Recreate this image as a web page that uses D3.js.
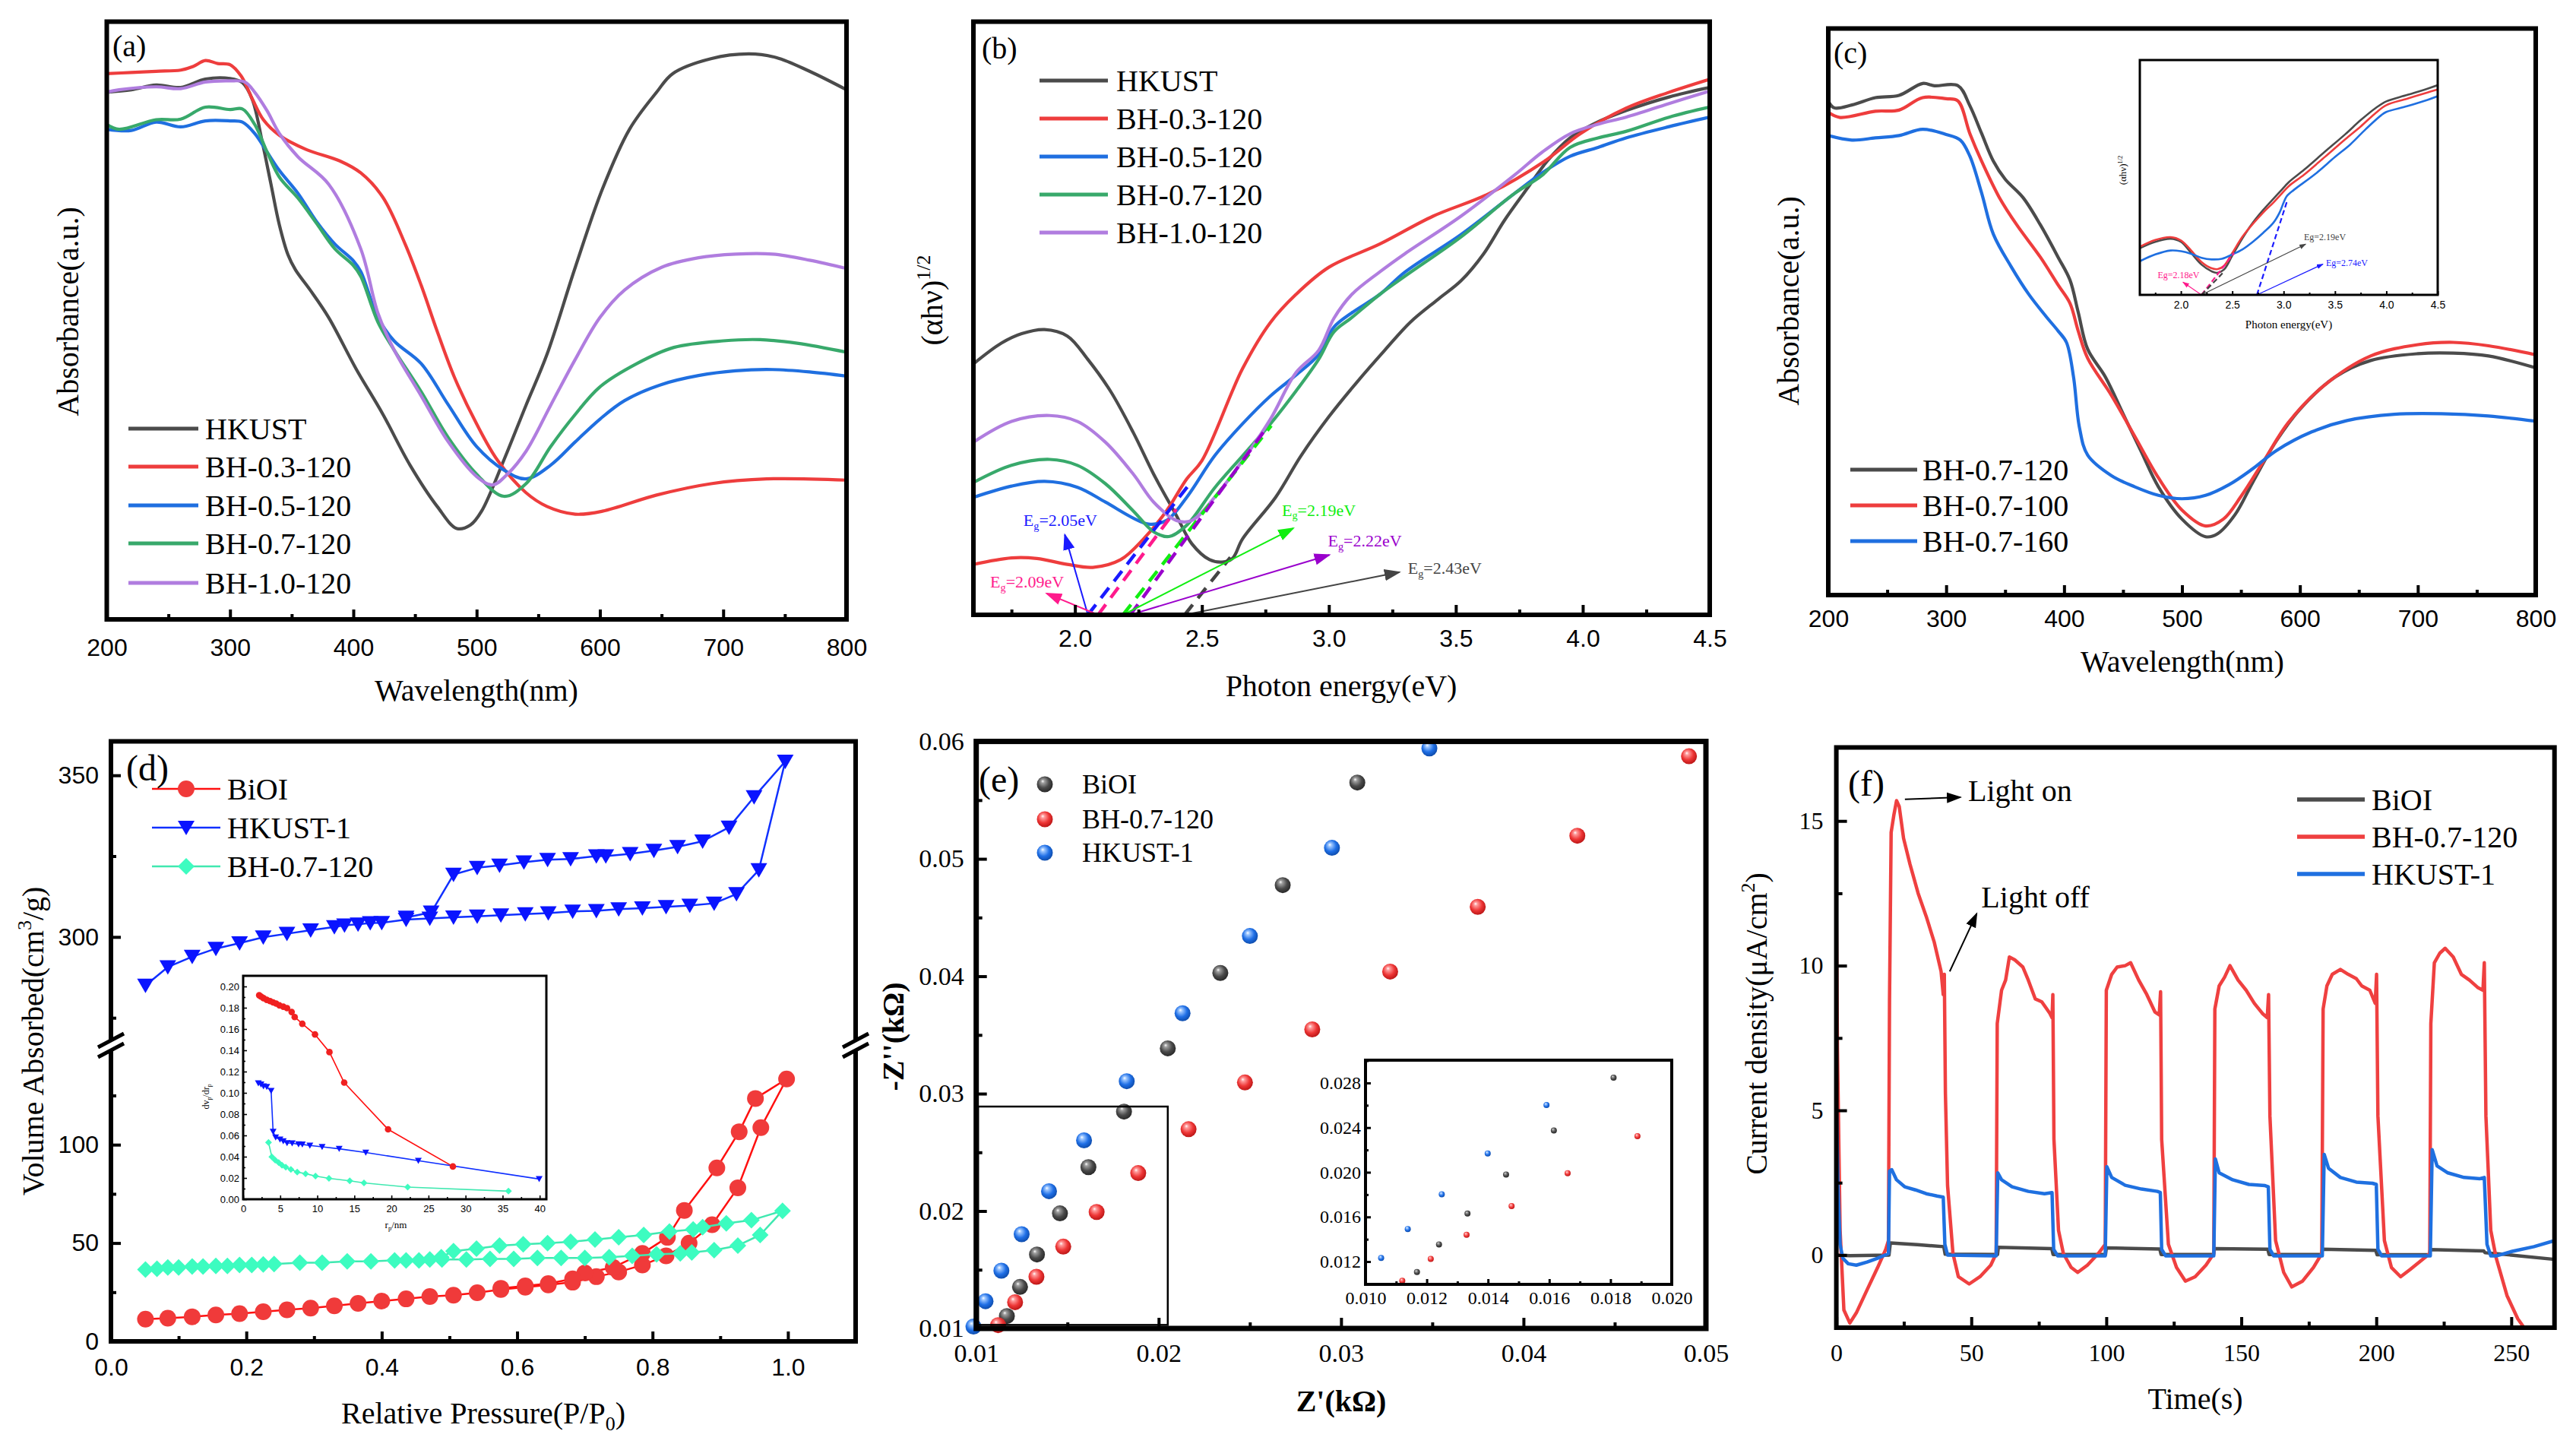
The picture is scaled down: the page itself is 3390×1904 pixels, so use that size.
<!DOCTYPE html>
<html><head><meta charset="utf-8">
<script src="https://cdn.jsdelivr.net/npm/d3@7"></script>
<style>body{margin:0;background:#fff}</style>
</head><body>
<script>
// ---------------- DATA ----------------
// (a) UV-vis absorbance, x = wavelength (nm), y = relative absorbance (a.u.)
const aHKUST=[[200,.882],[220,.886],[240,.894],[260,.890],[280,.904],[300,.905],[310,.898],[318,.87],[326,.80],[333,.73],[340,.66],[347,.61],[353,.585],[365,.551],[380,.505],[402,.420],[424,.343],[446,.258],[468,.189],[484,.152],[495,.158],[504,.181],[522,.266],[540,.358],[557,.443],[580,.589],[602,.720],[624,.820],[646,.882],[659,.913],[690,.938],[721,.946],[743,.940],[770,.917],[800,.886]];
const aBH03=[[200,.913],[220,.915],[240,.917],[260,.919],[270,.925],[280,.935],[290,.930],[300,.928],[309,.909],[318,.871],[327,.836],[340,.810],[362,.786],[389,.767],[406,.747],[424,.706],[442,.628],[455,.559],[468,.482],[482,.405],[500,.327],[517,.266],[540,.212],[557,.189],[580,.176],[602,.181],[646,.208],[690,.227],[735,.235],[800,.233]];
const aBH05=[[200,.820],[220,.818],[240,.832],[260,.824],[280,.834],[300,.834],[310,.832],[320,.813],[330,.782],[340,.751],[355,.713],[370,.666],[385,.628],[400,.600],[406,.582],[420,.505],[433,.466],[455,.428],[477,.359],[500,.289],[522,.250],[540,.235],[560,.258],[580,.297],[600,.335],[620,.366],[650,.393],[680,.408],[710,.416],[740,.418],[770,.414],[800,.407]];
const aBH07=[[200,.828],[210,.820],[240,.836],[260,.837],[280,.857],[300,.853],[310,.854],[320,.828],[330,.782],[340,.740],[355,.705],[370,.663],[385,.620],[400,.592],[406,.574],[420,.497],[433,.451],[455,.381],[477,.304],[500,.243],[522,.206],[540,.227],[560,.289],[580,.343],[600,.389],[630,.428],[660,.455],[700,.466],[730,.468],[760,.462],[800,.447]];
const aBH10=[[200,.882],[210,.886],[240,.891],[260,.888],[280,.899],[300,.901],[312,.899],[320,.882],[330,.851],[340,.813],[355,.774],[380,.728],[406,.620],[420,.512],[433,.451],[455,.374],[477,.297],[500,.239],[513,.225],[525,.243],[540,.281],[560,.358],[580,.435],[600,.505],[620,.551],[650,.589],[680,.605],[710,.611],[740,.611],[770,.601],[800,.587]];
const aNames=["HKUST","BH-0.3-120","BH-0.5-120","BH-0.7-120","BH-1.0-120"];

// (b) Tauc plot, x = photon energy (eV), y = (ahv)^1/2 (a.u.)
const bHKUST=[[1.6,.423],[1.71,.458],[1.79,.474],[1.88,.481],[1.97,.47],[2.05,.431],[2.14,.377],[2.23,.307],[2.31,.237],[2.40,.167],[2.46,.12],[2.53,.093],[2.58,.089],[2.62,.095],[2.66,.128],[2.79,.198],[2.89,.268],[3.0,.334],[3.11,.392],[3.22,.446],[3.32,.493],[3.43,.532],[3.52,.563],[3.61,.609],[3.69,.664],[3.78,.718],[3.86,.765],[3.95,.804],[4.04,.827],[4.17,.85],[4.34,.873],[4.5,.889]];
const bBH03=[[1.6,.085],[1.75,.096],[1.85,.095],[1.97,.085],[2.07,.08],[2.18,.093],[2.27,.128],[2.36,.175],[2.44,.229],[2.5,.26],[2.66,.415],[2.77,.493],[2.87,.54],[3.0,.586],[3.2,.625],[3.41,.672],[3.63,.71],[3.85,.765],[3.99,.811],[4.17,.854],[4.34,.881],[4.5,.903]];
const bBH05=[[1.6,.198],[1.75,.217],[1.88,.225],[2.01,.215],[2.12,.19],[2.23,.163],[2.29,.153],[2.36,.159],[2.44,.198],[2.55,.268],[2.66,.322],[2.77,.369],[2.87,.404],[2.96,.439],[3.02,.485],[3.09,.509],[3.2,.54],[3.3,.578],[3.52,.641],[3.73,.71],[3.84,.745],[3.95,.773],[4.06,.788],[4.17,.804],[4.34,.823],[4.5,.839]];
const bBH07=[[1.6,.223],[1.75,.252],[1.9,.262],[2.01,.252],[2.12,.221],[2.23,.175],[2.31,.14],[2.37,.132],[2.44,.151],[2.55,.214],[2.66,.268],[2.77,.322],[2.87,.377],[2.96,.431],[3.02,.477],[3.09,.501],[3.2,.54],[3.3,.571],[3.52,.637],[3.73,.71],[3.84,.741],[3.95,.788],[4.06,.804],[4.17,.815],[4.34,.839],[4.5,.856]];
const bBH10=[[1.6,.291],[1.75,.326],[1.9,.336],[2.01,.326],[2.12,.291],[2.23,.237],[2.31,.19],[2.4,.159],[2.46,.159],[2.55,.198],[2.66,.26],[2.77,.33],[2.87,.408],[2.96,.446],[3.02,.5],[3.09,.54],[3.2,.578],[3.3,.609],[3.52,.672],[3.73,.741],[3.84,.78],[3.95,.811],[4.06,.827],[4.17,.839],[4.34,.862],[4.5,.883]];
// tangent lines [x0,y0,x1,y1]: BH-0.5, BH-0.3, BH-0.7, BH-1.0, HKUST
const bTangents=[[2.051,0,2.452,.221],[2.091,0,2.399,.178],[2.189,0,2.773,.319],[2.218,0,2.746,.31],[2.432,0,2.612,.097]];
const bArrows=[[2.051,0,1.960,.135],[2.091,0,1.888,.036],[2.189,0,2.860,.146],[2.218,0,3.002,.101],[2.432,0,3.278,.072]];
const bLabelPos=[[1.797,.150],[1.666,.046],[2.815,.167],[2.996,.115],[3.311,.069]];
const bEg=["2.05","2.09","2.19","2.22","2.43"];

// (c) absorbance
const cBH120=[[200,.872],[205,.860],[220,.865],[240,.878],[260,.882],[280,.903],[290,.899],[310,.899],[320,.864],[330,.815],[340,.766],[350,.734],[365,.702],[380,.653],[395,.596],[405,.556],[412,.499],[420,.434],[435,.385],[450,.320],[465,.255],[480,.191],[500,.134],[520,.103],[530,.108],[545,.142],[560,.199],[580,.272],[600,.328],[630,.385],[660,.414],[700,.426],[730,.427],[760,.422],[800,.401]];
const cBH100=[[200,.852],[210,.843],[240,.854],[260,.856],[280,.878],[300,.876],[310,.872],[320,.815],[330,.766],[345,.702],[360,.653],[380,.596],[395,.547],[405,.515],[412,.466],[420,.418],[440,.353],[460,.280],[480,.207],[500,.150],[520,.122],[535,.134],[550,.174],[570,.239],[590,.304],[620,.369],[660,.422],[700,.442],[730,.446],[760,.440],[800,.424]];
const cBH160=[[200,.811],[220,.803],[240,.807],[260,.811],[280,.822],[300,.813],[312,.803],[320,.775],[330,.710],[340,.637],[355,.580],[370,.531],[385,.491],[395,.466],[402,.446],[408,.385],[413,.296],[420,.247],[440,.211],[460,.191],[480,.176],[500,.170],[520,.176],[540,.195],[560,.223],[580,.255],[610,.288],[640,.308],[680,.319],[720,.320],[760,.316],[800,.307]];
const cNames=["BH-0.7-120","BH-0.7-100","BH-0.7-160"];
// (c) inset Tauc
const ciBH120=[[1.6,.199],[1.75,.226],[1.9,.239],[2.0,.226],[2.1,.178],[2.2,.129],[2.3,.100],[2.35,.094],[2.42,.108],[2.5,.167],[2.6,.242],[2.7,.307],[2.8,.361],[2.9,.409],[2.97,.442],[3.05,.480],[3.2,.533],[3.4,.609],[3.6,.684],[3.75,.744],[3.9,.797],[4.0,.824],[4.2,.851],[4.4,.878],[4.5,.893]];
const ciBH100=[[1.6,.205],[1.75,.234],[1.9,.246],[2.0,.232],[2.1,.189],[2.2,.140],[2.3,.113],[2.36,.110],[2.42,.124],[2.5,.178],[2.6,.248],[2.7,.302],[2.8,.350],[2.9,.393],[2.97,.426],[3.05,.463],[3.2,.512],[3.4,.587],[3.6,.663],[3.75,.717],[3.9,.776],[4.0,.808],[4.2,.835],[4.4,.862],[4.5,.875]];
const ciBH160=[[1.6,.143],[1.75,.172],[1.9,.189],[2.0,.186],[2.1,.175],[2.2,.158],[2.3,.151],[2.4,.154],[2.5,.172],[2.6,.194],[2.7,.226],[2.8,.264],[2.9,.307],[2.96,.350],[3.0,.393],[3.03,.420],[3.1,.447],[3.3,.512],[3.5,.587],[3.65,.641],[3.8,.706],[3.95,.765],[4.0,.779],[4.2,.803],[4.4,.830],[4.5,.846]];
const ciTangents=[[2.2,0,2.518,.178],[2.2,0,2.405,.092],[2.74,0,3.037,.404]];
const ciArrows=[[2.2,0,2.02,.054],[2.2,0,3.215,.216],[2.74,0,3.383,.131]];
const ciLabelPos=[[1.773,.070],[3.198,.232],[3.412,.122]];
const ciEg=["2.18","2.19","2.74"];

// (d) N2 isotherms, x = P/P0, y = volume (cm3/g)
const dBiOIads=[[0.051,11.3],[0.084,11.8],[0.12,12.5],[0.155,13.4],[0.19,14.1],[0.225,15.1],[0.26,16],[0.295,16.9],[0.33,18.1],[0.365,19.3],[0.40,20.5],[0.436,21.6],[0.471,22.8],[0.506,23.5],[0.541,24.7],[0.576,26.4],[0.612,27.5],[0.646,28.7],[0.682,30.1],[0.717,32.9],[0.75,35.3],[0.785,38.8],[0.82,43.5],[0.854,49.9],[0.888,59.3],[0.926,78.1],[0.960,108.7],[0.998,133.4]];
const dBiOIdes=[[0.998,133.4],[0.952,123.5],[0.928,106.6],[0.895,88.2],[0.847,66.6],[0.822,52.9],[0.785,44.7],[0.742,37.6],[0.70,34.8],[0.682,31.8],[0.646,29.4],[0.612,28.2],[0.576,27.0]];
const dHKads=[[0.051,285],[0.084,290.7],[0.12,293.9],[0.155,296.4],[0.19,298.1],[0.225,299.9],[0.26,301],[0.295,302.1],[0.33,303.1],[0.345,303.6],[0.365,303.9],[0.383,304.3],[0.40,304.4],[0.436,305.4],[0.471,305.7],[0.506,306.1],[0.541,306.4],[0.576,306.7],[0.612,307.1],[0.646,307.4],[0.682,307.9],[0.717,308.1],[0.75,308.6],[0.785,308.9],[0.82,309.3],[0.855,309.7],[0.891,310.4],[0.924,313.3],[0.957,320.7],[0.996,354.3]];
const dHKdes=[[0.996,354.3],[0.95,343.3],[0.913,333.9],[0.874,329.6],[0.837,327.9],[0.802,326.7],[0.767,325.7],[0.731,325],[0.717,325],[0.679,324.1],[0.645,323.9],[0.61,323.1],[0.574,322.1],[0.541,321.4],[0.506,319.3],[0.473,307.6],[0.436,306]];
const dBHads=[[0.051,36.5],[0.068,36.9],[0.084,37.6],[0.10,37.6],[0.12,38.1],[0.136,38.1],[0.155,38.4],[0.172,38.4],[0.19,38.8],[0.208,38.8],[0.225,39.1],[0.241,39.3],[0.279,40],[0.312,40],[0.349,40.7],[0.384,40.7],[0.419,41.2],[0.436,41.2],[0.455,41.2],[0.471,41.6],[0.489,41.6],[0.525,41.6],[0.56,41.9],[0.595,41.9],[0.63,42.4],[0.665,42.4],[0.70,42.4],[0.736,42.8],[0.77,43.5],[0.806,44.2],[0.841,44.7],[0.858,45.2],[0.891,46.4],[0.926,48.7],[0.959,54.1],[0.992,66.4]];
const dBHdes=[[0.992,66.4],[0.946,61.6],[0.909,60],[0.874,58.1],[0.86,56.9],[0.825,55.8],[0.787,54.1],[0.75,52.9],[0.715,51.8],[0.679,50.6],[0.645,49.9],[0.609,49.4],[0.574,48.7],[0.54,47.1],[0.506,45.9],[0.488,42.8]];
const dNames=["BiOI","HKUST-1","BH-0.7-120"];
const dTicksLo=[0,50,100], dTicksHi=[300,350];
// (d) inset pore size distribution, x = rp (nm), y = dVp/drp
const diBiOI=[[2.16,.1917],[2.40,.1905],[2.74,.189],[3.18,.1874],[3.63,.1862],[4.04,.185],[4.45,.1839],[4.90,.1822],[5.41,.181],[5.92,.1796],[6.54,.176],[6.95,.1713],[7.98,.1649],[9.69,.1549],[11.64,.1383],[13.63,.1096],[19.55,.0657],[28.29,.0308]];
const diHK=[[2.05,.1091],[2.40,.108],[2.74,.1063],[3.18,.1056],[3.77,.102],[4.04,.0636],[4.38,.0581],[4.97,.0562],[5.41,.0546],[5.92,.0529],[6.61,.0527],[7.47,.0517],[7.98,.0515],[9.0,.0505],[10.65,.0493],[12.95,.0474],[16.54,.0439],[23.63,.0363],[39.93,.019]];
const diBH=[[3.42,.0534],[3.87,.0399],[4.32,.0368],[4.79,.0344],[5.24,.032],[5.75,.0301],[6.44,.028],[7.29,.0256],[8.42,.024],[9.76,.0218],[11.58,.0197],[14.38,.0173],[16.3,.0154],[22.19,.0114],[35.79,.0076]];

// (e) Nyquist, x = Z' (kOhm), y = -Z'' (kOhm)
const eBiOI=[[0.01168,0.01106],[0.0124,0.01354],[0.01333,0.0163],[0.01459,0.0198],[0.01615,0.02374],[0.0181,0.02847],[0.0205,0.03386],[0.02338,0.04028],[0.0268,0.04776],[0.03089,0.0565]];
const eBH=[[0.0112,0.01028],[0.01213,0.01224],[0.0133,0.0144],[0.01477,0.01697],[0.0166,0.01992],[0.01888,0.02323],[0.02164,0.02697],[0.02473,0.03095],[0.02842,0.03547],[0.03269,0.0404],[0.03749,0.04591],[0.04295,0.05197],[0.04907,0.05874]];
const eHK=[[0.00985,0.01016],[0.01051,0.01232],[0.01138,0.01492],[0.01249,0.01803],[0.01399,0.02169],[0.01591,0.02602],[0.01825,0.03106],[0.02131,0.03685],[0.025,0.04343],[0.0295,0.05094],[0.03484,0.05941]];
const eNames=["BiOI","BH-0.7-120","HKUST-1"];
const eZoomBox=[0.0101,0.0103,0.0205,0.0289];

// (f) photocurrent, x = time (s), y = current density (uA/cm2)
const fBiOI=[[0,0.0],[5,-0.02],[19.5,0.0],[20,0.42],[30,0.36],[39.8,0.29],[40.3,0.03],[59.7,0.02],[60,0.27],[79.8,0.22],[80.3,0.02],[99.7,0.02],[100,0.25],[119.8,0.21],[120.3,0.02],[139.7,0.02],[140,0.22],[159.8,0.2],[160.3,0.02],[179.7,0.02],[180,0.2],[199.8,0.16],[200.3,0.01],[219.7,0.01],[220,0.19],[239.8,0.14],[240.3,0.08],[250,0.0],[266,-0.15]];
const fBH=[[0,12.2],[0.4,7.2],[1.4,0.85],[2.8,-1.9],[5,-2.35],[7.4,-2.0],[11.4,-1.2],[15.3,-0.43],[18.3,0.2],[19.3,0.5],[19.7,8.8],[20.3,14.6],[21.3,15.2],[22.3,15.7],[23.3,15.5],[24.9,14.4],[27.3,13.5],[30.3,12.5],[33.3,11.7],[36.3,10.8],[38.8,9.8],[39.6,9.0],[40.0,9.7],[40.4,5.6],[41.2,2.4],[43.2,0.05],[45.2,-0.75],[49.2,-1.0],[53.2,-0.75],[57.2,-0.35],[59.2,0.05],[59.6,8.0],[61.2,9.15],[62.7,9.5],[64.1,10.3],[66.1,10.2],[69.1,9.95],[71.1,9.5],[73.7,8.85],[76.1,8.75],[79.1,8.35],[79.9,8.2],[80.2,9.0],[80.6,4.0],[82.3,0.85],[84.1,0.05],[87,-0.43],[89.4,-0.6],[93,-0.35],[97,0.05],[99.6,0.37],[100,9.15],[102,9.7],[104,9.95],[107,10.0],[109,10.1],[112,9.5],[115,9.0],[118,8.4],[119.6,8.3],[120.1,9.1],[120.5,4.0],[123,0.37],[126,-0.43],[129.3,-0.9],[132.9,-0.75],[136.9,-0.35],[139.8,0.05],[140.2,8.5],[141.8,9.3],[143.8,9.6],[145.8,10.0],[148.8,9.5],[151.8,9.15],[154.8,8.7],[157.8,8.35],[159.6,8.2],[160.1,9.0],[160.6,4.8],[162.7,0.5],[165.7,-0.6],[168.7,-1.1],[172.7,-0.9],[176.7,-0.43],[179.8,0.05],[180.3,8.5],[181.7,9.3],[183.7,9.7],[186.7,9.87],[189.6,9.7],[192.6,9.55],[194.6,9.3],[197.6,9.15],[199.6,8.7],[200.1,9.7],[200.6,4.8],[203,0.5],[205.6,-0.43],[209,-0.75],[212.5,-0.5],[216.5,-0.2],[219.8,0.05],[220.2,8.0],[221.5,10.1],[223.5,10.43],[225.5,10.6],[228.5,10.3],[231.5,9.7],[234.5,9.5],[237.5,9.25],[239.5,9.15],[240,10.1],[240.6,4.8],[242.4,0.85],[244.4,-0.1],[248.4,-1.4],[252.4,-2.2],[255.4,-2.6],[258,-3.2]];
const fHK=[[0,5.5],[0.6,2.44],[1.4,0.37],[2.4,-0.11],[4.4,-0.3],[7.4,-0.35],[11.4,-0.24],[15.3,-0.11],[19.3,0.05],[19.7,2.9],[20.5,2.95],[22.3,2.6],[25.3,2.36],[29.3,2.25],[33.3,2.12],[37.3,2.04],[39.6,2.0],[40.2,0.37],[41.2,0],[59.2,-0.03],[59.8,2.84],[61.2,2.6],[65.1,2.36],[71.1,2.2],[77.1,2.12],[79.9,2.16],[80.5,0.2],[82,-0.03],[99.6,-0.03],[100.2,3.05],[102,2.68],[107,2.41],[113,2.28],[118.9,2.2],[120,2.16],[120.5,0.2],[122,-0.03],[139.8,-0.03],[140.4,3.32],[141.8,2.84],[146.8,2.6],[152.8,2.44],[158.8,2.4],[160,2.36],[160.6,0.2],[162,-0.03],[180,-0.03],[180.7,3.48],[182.3,3.0],[186.7,2.68],[192.6,2.52],[198.6,2.48],[200,2.44],[200.6,0.2],[202,-0.03],[220,-0.03],[220.7,3.64],[222.5,3.08],[226.5,2.84],[232.5,2.68],[238.4,2.64],[240,2.68],[241,0.37],[242.4,-0.03],[244.4,-0.03],[250.4,0.13],[258.4,0.29],[266,0.5]];
const fNames=["BiOI","BH-0.7-120","HKUST-1"];
const fLightOn=[25.4,15.75,46,15.82], fLightOff=[42,9.8,52,11.8];

// ---------------- DRAWING ----------------
const SERIF='"Liberation Serif","Times New Roman",Times,serif';
const SANS='"Liberation Sans",Arial,Helvetica,sans-serif';
const svg=d3.select('body').append('svg').attr('width',3390).attr('height',1904);
svg.append('rect').attr('width',3390).attr('height',1904).attr('fill','#fff');
const defs=svg.append('defs');
const C={gray:'#4b4b4b',red:'#ee3d3d',blue:'#1f6fe0',green:'#38a96b',purple:'#b07ddf'};

function clip(id,L,T,R,B){defs.append('clipPath').attr('id',id).append('rect').attr('x',L).attr('y',T).attr('width',R-L).attr('height',B-T);return `url(#${id})`;}
function frame(g,L,T,R,B,sw){g.append('rect').attr('x',L).attr('y',T).attr('width',R-L).attr('height',B-T).attr('fill','none').attr('stroke','#000').attr('stroke-width',sw);}
function styleAxis(a,font,size,sw){a.select('.domain').remove();a.selectAll('line').attr('stroke','#000').attr('stroke-width',sw);a.selectAll('text').attr('font-family',font).attr('font-size',size).attr('fill','#000');}
function axB(g,x,y,maj,min,fmt,o){
  const a=g.append('g').attr('transform',`translate(0,${y})`).call(d3.axisBottom(x).tickValues(maj).tickSizeInner(-o.ml).tickSizeOuter(0).tickPadding(o.pad).tickFormat(fmt||(()=>'')));
  styleAxis(a,o.font,o.size,o.sw);
  if(min&&min.length){const b=g.append('g').attr('transform',`translate(0,${y})`).call(d3.axisBottom(x).tickValues(min).tickSizeInner(-o.mn).tickSizeOuter(0).tickFormat(()=>''));styleAxis(b,o.font,o.size,o.sw);}
}
function axL(g,y,x,maj,min,fmt,o){
  const a=g.append('g').attr('transform',`translate(${x},0)`).call(d3.axisLeft(y).tickValues(maj).tickSizeInner(-o.ml).tickSizeOuter(0).tickPadding(o.pad).tickFormat(fmt||(()=>'')));
  styleAxis(a,o.font,o.size,o.sw);
  if(min&&min.length){const b=g.append('g').attr('transform',`translate(${x},0)`).call(d3.axisLeft(y).tickValues(min).tickSizeInner(-o.mn).tickSizeOuter(0).tickFormat(()=>''));styleAxis(b,o.font,o.size,o.sw);}
}
function line(g,data,x,y,color,w,curve){
  return g.append('path').datum(data).attr('d',d3.line().x(d=>x(d[0])).y(d=>y(d[1])).curve(curve||d3.curveCatmullRom.alpha(0.5)))
   .attr('fill','none').attr('stroke',color).attr('stroke-width',w).attr('stroke-linejoin','round').attr('stroke-linecap','round');
}
function rich(g,x,y,parts,size,font,opt){
  opt=opt||{};
  const t=g.append('text').attr('font-family',font).attr('font-size',size).attr('fill',opt.fill||'#000')
   .attr('text-anchor',opt.anchor||'start').attr('font-weight',opt.bold?'bold':'normal');
  if(opt.rotate){t.attr('transform',`translate(${x},${y}) rotate(-90)`);} else {t.attr('x',x).attr('y',y);}
  let cur=0;
  parts.forEach(p=>{const s=typeof p==='string'?p:p[0];const m=typeof p==='string'?0:p[1];
    const target=m===1?-0.4*size:(m===-1?0.22*size:0);
    const ts=t.append('tspan').text(s).attr('dy',target-cur); if(m) ts.attr('font-size',size*0.65); cur=target;});
  return t;
}
let mk=0;
function arrowHead(color,size){const id='ah'+(mk++);
  defs.append('marker').attr('id',id).attr('viewBox','0 0 10 10').attr('refX',9).attr('refY',5).attr('markerWidth',size).attr('markerHeight',size)
   .attr('markerUnits','userSpaceOnUse').attr('orient','auto').append('path').attr('d','M0,1.5 L10,5 L0,8.5 z').attr('fill',color);
  return `url(#${id})`;}
function legendLines(g,names,colors,x0,x1,tx,ys,size,w){
  names.forEach((n,i)=>{g.append('line').attr('x1',x0).attr('x2',x1).attr('y1',ys[i]).attr('y2',ys[i]).attr('stroke',colors[i]).attr('stroke-width',w);
    g.append('text').attr('x',tx).attr('y',ys[i]).attr('dy','0.34em').attr('font-family',SERIF).attr('font-size',size).text(n);});
}
function label(g,x,y,s,size,font,anchor){return g.append('text').attr('x',x).attr('y',y).attr('font-family',font||SERIF).attr('font-size',size).attr('text-anchor',anchor||'start').text(s);}

// ===== Panel (a) =====
{
  const g=svg.append('g');
  const L=140.5,R=1114,T=28.5,B=815;
  const x=d3.scaleLinear().domain([200,800]).range([L,R]);
  const y=d3.scaleLinear().domain([0,1]).range([B,T]);
  const cg=g.append('g').attr('clip-path',clip('ca',L,T,R,B));
  const cols=[C.gray,C.red,C.blue,C.green,C.purple];
  [aHKUST,aBH03,aBH05,aBH07,aBH10].forEach((d,i)=>line(cg,d,x,y,cols[i],4.2));
  frame(g,L,T,R,B,6);
  axB(g,x,B,d3.range(200,801,100),d3.range(250,800,100),d3.format('d'),{font:SANS,size:32,pad:25,ml:13,mn:7,sw:4});
  legendLines(g,aNames,cols,169,261,270,[564,614,665,715,767],40,5);
  label(g,148,74,'(a)',40);
  label(g,627,922,'Wavelength(nm)',40,SERIF,'middle');
  rich(g,103,410,['Absorbance(a.u.)'],40,SERIF,{anchor:'middle',rotate:true});
}

// ===== Panel (b) =====
{
  const g=svg.append('g');
  const L=1281,R=2250,T=28.5,B=809;
  const x=d3.scaleLinear().domain([1.6,4.5]).range([L,R]);
  const y=d3.scaleLinear().domain([0,1]).range([B,T]);
  const cg=g.append('g').attr('clip-path',clip('cb',L,T,R,B+6));
  const cols=[C.gray,C.red,C.blue,C.green,C.purple];
  [bHKUST,bBH03,bBH05,bBH07,bBH10].forEach((d,i)=>line(cg,d,x,y,cols[i],4.2));
  const tcol=['#1a1aff','#ff1a8c','#11ee11','#9900cc','#444444'];
  bTangents.forEach((t,i)=>cg.append('line').attr('x1',x(t[0])).attr('y1',y(t[1])).attr('x2',x(t[2])).attr('y2',y(t[3]))
     .attr('stroke',tcol[i]).attr('stroke-width',4.5).attr('stroke-dasharray','17,11'));
  bArrows.forEach((a,i)=>g.append('line').attr('x1',x(a[0])).attr('y1',y(a[1])).attr('x2',x(a[2])).attr('y2',y(a[3]))
     .attr('stroke',tcol[i]).attr('stroke-width',2).attr('marker-end',arrowHead(tcol[i],22)));
  bLabelPos.forEach((p,i)=>rich(g,x(p[0]),y(p[1]),['E',['g',-1],'='+bEg[i]+'eV'],22,SERIF,{fill:tcol[i]}));
  frame(g,L,T,R,B,6);
  axB(g,x,B,[2.0,2.5,3.0,3.5,4.0,4.5],[1.75,2.25,2.75,3.25,3.75,4.25],d3.format('.1f'),{font:SANS,size:32,pad:19,ml:13,mn:7,sw:4});
  legendLines(g,aNames,cols,1368,1458,1469,[106,156,206,256,306],40,5);
  label(g,1292,77,'(b)',40);
  label(g,1765,916,'Photon energy(eV)',40,SERIF,'middle');
  rich(g,1240,395,['(αhν)',['1/2',1]],40,SERIF,{anchor:'middle',rotate:true});
}

// ===== Panel (c) =====
{
  const g=svg.append('g');
  const L=2406,R=3337,T=37.5,B=783;
  const x=d3.scaleLinear().domain([200,800]).range([L,R]);
  const y=d3.scaleLinear().domain([0,1]).range([B,T]);
  const cg=g.append('g').attr('clip-path',clip('cc',L,T,R,B));
  const cols=[C.gray,C.red,C.blue];
  [cBH120,cBH100,cBH160].forEach((d,i)=>line(cg,d,x,y,cols[i],4.2));
  frame(g,L,T,R,B,6);
  axB(g,x,B,d3.range(200,801,100),d3.range(250,800,100),d3.format('d'),{font:SANS,size:32,pad:19,ml:13,mn:7,sw:4});
  legendLines(g,cNames,cols,2435,2523,2530,[618,665,712],40,5);
  label(g,2413,83,'(c)',40);
  label(g,2872,884,'Wavelength(nm)',40,SERIF,'middle');
  rich(g,2367,396,['Absorbance(a.u.)'],40,SERIF,{anchor:'middle',rotate:true});
  // inset
  const iL=2816,iR=3208,iT=79,iB=388;
  const xi=d3.scaleLinear().domain([1.6,4.5]).range([iL,iR]);
  const yi=d3.scaleLinear().domain([0,1]).range([iB,iT]);
  g.append('rect').attr('x',iL).attr('y',iT).attr('width',iR-iL).attr('height',iB-iT).attr('fill','#fff');
  const ig=g.append('g').attr('clip-path',clip('cci',iL,iT,iR,iB+3));
  [ciBH120,ciBH100,ciBH160].forEach((d,i)=>line(ig,d,xi,yi,cols[i],2.6));
  const icol=['#ff1a8c','#444444','#1a1aff'];
  ciTangents.forEach((t,i)=>ig.append('line').attr('x1',xi(t[0])).attr('y1',yi(t[1])).attr('x2',xi(t[2])).attr('y2',yi(t[3]))
     .attr('stroke',icol[i]).attr('stroke-width',2.2).attr('stroke-dasharray','7,4'));
  ciArrows.forEach((a,i)=>g.append('line').attr('x1',xi(a[0])).attr('y1',yi(a[1])).attr('x2',xi(a[2])).attr('y2',yi(a[3]))
     .attr('stroke',icol[i]).attr('stroke-width',1.2).attr('marker-end',arrowHead(icol[i],9)));
  ciLabelPos.forEach((p,i)=>label(g,xi(p[0]),yi(p[1]),'Eg='+ciEg[i]+'eV',12).attr('fill',icol[i]));
  frame(g,iL,iT,iR,iB,3);
  axB(g,xi,iB,[2.0,2.5,3.0,3.5,4.0,4.5],[1.75,2.25,2.75,3.25,3.75,4.25],d3.format('.1f'),{font:SANS,size:14,pad:8,ml:5,mn:3,sw:2});
  label(g,3012,432,'Photon energy(eV)',15,SERIF,'middle');
  rich(g,2798,224,['(αhν)',['1/2',1]],13,SERIF,{anchor:'middle',rotate:true});
}

// ===== Panel (d) =====
{
  const g=svg.append('g');
  const L=146,R=1126,T=975.5,B=1765;
  const x=d3.scaleLinear().domain([0,1.1]).range([L,R]);
  const yLo=d3.scaleLinear().domain([0,148]).range([B,1382]);
  const yHi=d3.scaleLinear().domain([268,360.5]).range([1369,T]);
  const lc=['#ff1010','#1030ff','#40e8b0'], fc=['#f03a3a','#0a14ff','#3dfcc0'];
  const circ=(s,cx,cy,c)=>s.append('circle').attr('cx',cx).attr('cy',cy).attr('r',11).attr('fill',c);
  const tri=(s,cx,cy,c)=>s.append('path').attr('d',`M${cx-11},${cy-9}L${cx+11},${cy-9}L${cx},${cy+10}Z`).attr('fill',c);
  const dia=(s,cx,cy,c)=>s.append('path').attr('d',`M${cx},${cy-11}L${cx+11},${cy}L${cx},${cy+11}L${cx-11},${cy}Z`).attr('fill',c);
  const lin=d3.curveLinear;
  line(g,dBiOIads,x,yLo,lc[0],2.5,lin); line(g,dBiOIdes,x,yLo,lc[0],2.5,lin);
  dBiOIads.concat(dBiOIdes.slice(1)).forEach(d=>circ(g,x(d[0]),yLo(d[1]),fc[0]));
  line(g,dHKads,x,yHi,lc[1],2.5,lin); line(g,dHKdes,x,yHi,lc[1],2.5,lin);
  dHKads.concat(dHKdes.slice(1)).forEach(d=>tri(g,x(d[0]),yHi(d[1]),fc[1]));
  line(g,dBHads,x,yLo,lc[2],2.5,lin); line(g,dBHdes,x,yLo,lc[2],2.5,lin);
  dBHads.concat(dBHdes.slice(1)).forEach(d=>dia(g,x(d[0]),yLo(d[1]),fc[2]));
  frame(g,L,T,R,B,6);
  const ao={font:SANS,size:32,pad:16,ml:13,mn:7,sw:4};
  axB(g,x,B,[0,0.2,0.4,0.6,0.8,1.0],[0.1,0.3,0.5,0.7,0.9],d3.format('.1f'),Object.assign({},ao,{pad:22}));
  axL(g,yLo,L,dTicksLo,[25,75,125],d3.format('d'),ao);
  axL(g,yHi,L,dTicksHi,[275,325],d3.format('d'),ao);
  // axis break marks
  [L,R].forEach(xx=>{
    g.append('rect').attr('x',xx-5).attr('y',1369).attr('width',10).attr('height',13).attr('fill','#fff');
    [1369,1382].forEach(yy=>g.append('line').attr('x1',xx-17).attr('y1',yy+9).attr('x2',xx+17).attr('y2',yy-9).attr('stroke','#000').attr('stroke-width',5));
  });
  // legend
  const ly=[1038,1089,1140];
  const shapes=[circ,tri,dia];
  dNames.forEach((n,i)=>{g.append('line').attr('x1',200).attr('x2',290).attr('y1',ly[i]).attr('y2',ly[i]).attr('stroke',lc[i]).attr('stroke-width',2.5);
    shapes[i](g,245,ly[i],fc[i]); label(g,299,ly[i]+14,n,40);});
  label(g,166,1027,'(d)',48);
  rich(g,636,1873,['Relative Pressure(P/P',['0',-1],')'],40,SERIF,{anchor:'middle'});
  rich(g,57,1370,['Volume Absorbed(cm',['3',1],'/g)'],40,SERIF,{anchor:'middle',rotate:true});
  // inset
  const iL=320,iR=719,iT=1284,iB=1578;
  const xi=d3.scaleLinear().domain([0,40.9]).range([iL,iR]);
  const yi=d3.scaleLinear().domain([0,0.21]).range([iB,iT]);
  g.append('rect').attr('x',iL).attr('y',iT).attr('width',iR-iL).attr('height',iB-iT).attr('fill','#fff');
  line(g,diBiOI,xi,yi,'#ff1010',1.6,lin); line(g,diHK,xi,yi,'#1030ff',1.6,lin); line(g,diBH,xi,yi,'#40e8b0',1.6,lin);
  diBiOI.forEach(d=>g.append('circle').attr('cx',xi(d[0])).attr('cy',yi(d[1])).attr('r',4.3).attr('fill','#f02020'));
  diHK.forEach(d=>{const cx=xi(d[0]),cy=yi(d[1]);g.append('path').attr('d',`M${cx-4.5},${cy-3.8}L${cx+4.5},${cy-3.8}L${cx},${cy+4.2}Z`).attr('fill','#0a14ff');});
  diBH.forEach(d=>{const cx=xi(d[0]),cy=yi(d[1]);g.append('path').attr('d',`M${cx},${cy-4.5}L${cx+4.5},${cy}L${cx},${cy+4.5}L${cx-4.5},${cy}Z`).attr('fill','#3dfcc0');});
  frame(g,iL,iT,iR,iB,3);
  const io={font:SANS,size:13,pad:5,ml:5,mn:3,sw:1.6};
  axB(g,xi,iB,d3.range(0,41,5),d3.range(2.5,40,5),d3.format('d'),Object.assign({},io,{pad:8}));
  axL(g,yi,iL,d3.range(0,0.201,0.02),d3.range(0.01,0.2,0.02),d3.format('.2f'),io);
  rich(g,275,1443,['dv',['p',-1],'/dr',['p',-1]],12,SERIF,{anchor:'middle',rotate:true});
  rich(g,521,1616,['r',['p',-1],'/nm'],13,SERIF,{anchor:'middle'});
}

// ===== Panel (e) =====
{
  const g=svg.append('g');
  const L=1284.7,R=2245,T=975.6,B=1748;
  const x=d3.scaleLinear().domain([0.01,0.05]).range([L,R]);
  const y=d3.scaleLinear().domain([0.01,0.06]).range([B,T]);
  function grad(id,l,m,d){const gr=defs.append('radialGradient').attr('id',id).attr('cx','0.45').attr('cy','0.42').attr('r','0.6').attr('fx','0.36').attr('fy','0.3');
    gr.append('stop').attr('offset','0').attr('stop-color','#ffffff');gr.append('stop').attr('offset','0.18').attr('stop-color',l);
    gr.append('stop').attr('offset','0.6').attr('stop-color',m);gr.append('stop').attr('offset','1').attr('stop-color',d);}
  grad('gK','#a0a0a0','#4a4a4a','#262626');grad('gR','#ff9c9c','#ee3636','#b81414');grad('gB','#9cc6ff','#1f6fe6','#0d4aa8');
  const fills=['url(#gK)','url(#gR)','url(#gB)'];
  const sets=[eBiOI,eBH,eHK];
  sets.forEach((s,i)=>s.forEach(d=>g.append('circle').attr('cx',x(d[0])).attr('cy',y(d[1])).attr('r',10.5).attr('fill',fills[i])));
  // zoom box
  g.append('rect').attr('x',x(eZoomBox[0])).attr('y',y(eZoomBox[3])).attr('width',x(eZoomBox[2])-x(eZoomBox[0])).attr('height',y(eZoomBox[1])-y(eZoomBox[3]))
    .attr('fill','none').attr('stroke','#000').attr('stroke-width',2.5);
  frame(g,L,T,R,B,7);
  const ao={font:SERIF,size:34,pad:16,ml:14,mn:8,sw:4};
  axB(g,x,B,[0.01,0.02,0.03,0.04,0.05],[0.015,0.025,0.035,0.045],d3.format('.2f'),Object.assign({},ao,{pad:20}));
  axL(g,y,L,[0.01,0.02,0.03,0.04,0.05,0.06],[0.015,0.025,0.035,0.045,0.055],d3.format('.2f'),ao);
  const ly=[1032,1078,1122];
  eNames.forEach((n,i)=>{g.append('circle').attr('cx',1375).attr('cy',ly[i]).attr('r',10.5).attr('fill',fills[i]);label(g,1424,ly[i]+12,n,36);});
  label(g,1288,1042,'(e)',48);
  label(g,1765,1857,"Z'(kΩ)",40,SERIF,'middle').attr('font-weight','bold');
  rich(g,1189,1364,["-Z''(kΩ)"],40,SERIF,{anchor:'middle',rotate:true,bold:true});
  // inset
  const iL=1797,iR=2200,iT=1395,iB=1690;
  const xi=d3.scaleLinear().domain([0.01,0.02]).range([iL,iR]);
  const yi=d3.scaleLinear().domain([0.00996,0.03004]).range([iB,iT]);
  g.append('rect').attr('x',iL).attr('y',iT).attr('width',iR-iL).attr('height',iB-iT).attr('fill','#fff');
  const ig=g.append('g').attr('clip-path',clip('cei',iL,iT,iR,iB));
  sets.forEach((s,i)=>s.forEach(d=>ig.append('circle').attr('cx',xi(d[0])).attr('cy',yi(d[1])).attr('r',4).attr('fill',fills[i])));
  frame(g,iL,iT,iR,iB,4);
  const io={font:SERIF,size:24,pad:6,ml:7,mn:4,sw:3};
  axB(g,xi,iB,d3.range(0.010,0.0201,0.002),d3.range(0.011,0.020,0.002),d3.format('.3f'),Object.assign({},io,{pad:9}));
  axL(g,yi,iL,[0.012,0.016,0.020,0.024,0.028],[0.010,0.014,0.018,0.022,0.026,0.030],d3.format('.3f'),io);
}

// ===== Panel (f) =====
{
  const g=svg.append('g');
  const L=2416.6,R=3361.7,T=983.5,B=1747;
  const x=d3.scaleLinear().domain([0,266]).range([L,R]);
  const y=d3.scaleLinear().domain([-2.51,17.54]).range([B,T]);
  const cg=g.append('g').attr('clip-path',clip('cf',L,T,R,B));
  const lin=d3.curveLinear;
  line(cg,fBiOI,x,y,C.gray,4.5,lin);
  line(cg,fBH,x,y,'#ef4040',4.5,lin);
  line(cg,fHK,x,y,'#1f70e0',4.5,lin);
  frame(g,L,T,R,B,6);
  const ao={font:SERIF,size:32,pad:17,ml:14,mn:8,sw:4};
  axB(g,x,B,d3.range(0,251,50),d3.range(25,251,50),d3.format('d'),Object.assign({},ao,{pad:21}));
  axL(g,y,L,[0,5,10,15],[2.5,7.5,12.5],d3.format('d'),ao);
  legendLines(g,fNames,[C.gray,'#ef4040','#1f70e0'],3023,3112,3121,[1052,1101,1150],40,5.5);
  label(g,2432,1047,'(f)',48);
  // annotations
  g.append('line').attr('x1',x(fLightOn[0])).attr('y1',y(fLightOn[1])).attr('x2',x(fLightOn[2])).attr('y2',y(fLightOn[3])).attr('stroke','#000').attr('stroke-width',2).attr('marker-end',arrowHead('#000',20));
  label(g,x(fLightOn[2])+10,y(fLightOn[3])+5,'Light on',40);
  g.append('line').attr('x1',x(fLightOff[0])).attr('y1',y(fLightOff[1])).attr('x2',x(fLightOff[2])).attr('y2',y(fLightOff[3])).attr('stroke','#000').attr('stroke-width',2).attr('marker-end',arrowHead('#000',20));
  label(g,x(fLightOff[2])+6,y(fLightOff[3])-8,'Light off',40);
  label(g,2889,1854,'Time(s)',40,SERIF,'middle');
  rich(g,2325,1347,['Current density(μA/cm',['2',1],')'],40,SERIF,{anchor:'middle',rotate:true});
}
</script></body></html>
